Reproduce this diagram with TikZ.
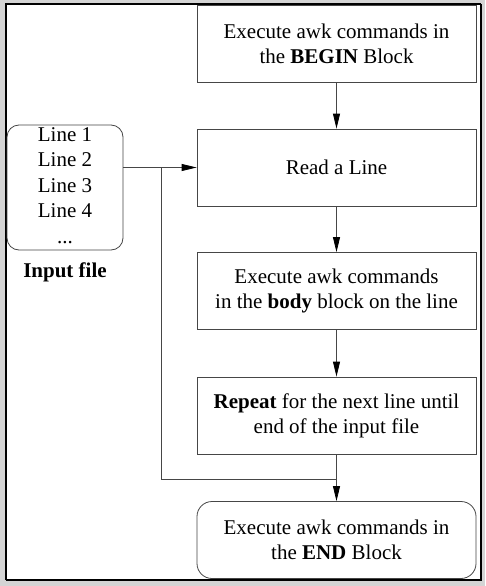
\documentclass[tikz,border=0pt]{standalone}
\usepackage{fontspec}
\setmainfont{Liberation Serif}
\usetikzlibrary{arrows.meta}
\definecolor{bggray}{RGB}{212,212,212}
\definecolor{linegray}{RGB}{70,70,70}
\tikzset{
  box/.style={draw=linegray, line width=0.8pt, minimum width=279pt, minimum height=77pt, align=center, inner sep=0pt, font=\fontsize{21}{25}\selectfont},
  rbox/.style={box, rounded corners=15pt},
  inbox/.style={draw=linegray, line width=0.8pt, rounded corners=12pt, minimum width=116pt, minimum height=125pt, inner sep=0pt},
  txt/.style={anchor=base, inner sep=0pt, font=\fontsize{21}{25}\selectfont},
  conn/.style={draw=linegray, line width=0.8pt},
  arr/.style={conn, -{Triangle[length=15pt,width=7pt,fill=black,color=black]}},
}
\begin{document}
\begin{tikzpicture}[x=1pt,y=-1pt]
\useasboundingbox (0,0) rectangle (485,586);
\fill[bggray] (0,0) rectangle (485,586);
\fill[white] (6,4) rectangle (481,580);
\draw[line width=1.2pt] (481,4) -- (6,4) -- (6,580);
\draw[line width=2.2pt] (6,580) -- (481,580) -- (481,4);

\node[box] (b1) at (336.5,43.5) {Execute awk commands in\\the \textbf{BEGIN} Block};
\node[box] (b2) at (336.5,167.5) {Read a Line};
\node[box] (b3) at (336.5,291) {Execute awk commands\\in the \textbf{body} block on the line};
\node[box] (b4) at (336.5,415.5) {\textbf{Repeat} for the next line until\\end of the input file};
\node[rbox] (b5) at (336.5,540) {Execute awk commands in\\the \textbf{END} Block};

\node[inbox] (input) at (65,187.5) {};
\node[txt] (l1) at (65,141) {Line 1};
\node[txt] (l2) at (65,166.5) {Line 2};
\node[txt] (l3) at (65,192) {Line 3};
\node[txt] (l4) at (65,217.5) {Line 4};
\node[txt] (l5) at (65,243) {...};
\node[txt] (lbl) at (65,277) {\textbf{Input file}};

\draw[arr] (b1) -- (b2);
\draw[arr] (b2) -- (b3);
\draw[arr] (b3) -- (b4);
\draw[arr] (b4) -- (b5);
\draw[arr] (input.east |- b2.west) -- (b2.west);
\coordinate (split) at (161,167.5);
\coordinate (merge) at (336.5,479);
\draw[conn] (split) |- (merge);
\end{tikzpicture}
\end{document}
